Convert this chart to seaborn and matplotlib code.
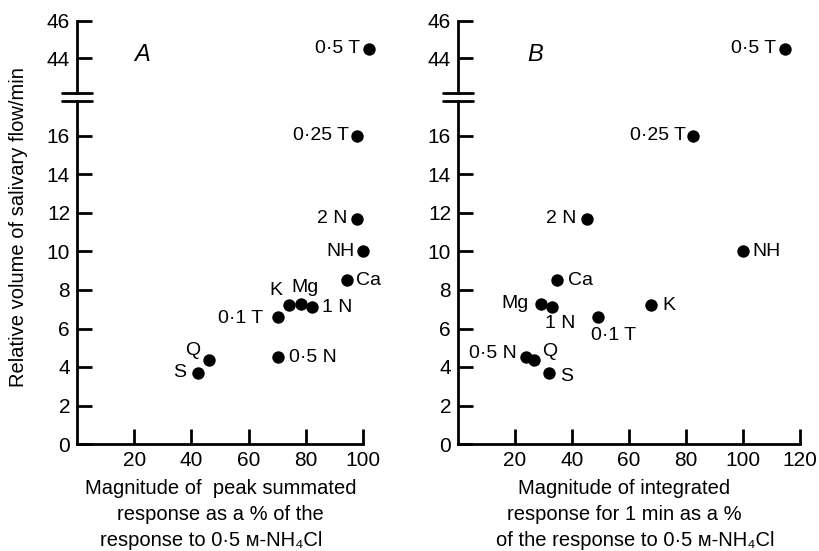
import matplotlib
matplotlib.use("Agg")
import matplotlib.pyplot as plt
import seaborn as sns
import pandas as pd
from matplotlib.lines import Line2D

sns.set_style("ticks")
plt.rcParams['font.family'] = ['Liberation Sans', 'DejaVu Sans']
plt.rcParams.update({"text.color": "black", "axes.labelcolor": "black",
                     "xtick.color": "black", "ytick.color": "black",
                     "axes.edgecolor": "black"})

# Test solutions and their responses
solutions = ["0·5 T", "0·25 T", "2 N", "NH", "Ca", "K", "Mg", "1 N", "0·1 T", "0·5 N", "Q", "S"]
flow = [44.5, 16.0, 11.7, 10.0, 8.5, 7.2, 7.25, 7.1, 6.6, 4.5, 4.35, 3.7]
peak_pct = [102.0, 98.0, 98.0, 100.0, 94.3, 74.3, 78.2, 82.3, 70.3, 70.3, 46.2, 42.4]
integrated_pct = [114.7, 82.5, 45.3, 100.0, 34.7, 67.7, 29.1, 33.0, 49.2, 23.9, 26.8, 32.0]

low_yticks = [0, 2, 4, 6, 8, 10, 12, 14, 16]
high_yticks = [44, 46]
xticks_a = [20, 40, 60, 80, 100]
xticks_b = [20, 40, 60, 80, 100, 120]

df = pd.DataFrame({"solution": solutions, "flow": flow,
                   "peak": peak_pct, "integrated": integrated_pct})

# label placement (offset in points, alignment) for each panel
offs_a = {"0·5 T": (-6.5, 0, "right"), "0·25 T": (-6, 0, "right"), "2 N": (-7, 0, "right"),
          "NH": (-6, 0, "right"), "Ca": (7, 0, "left"), "K": (-10, 11, "center"),
          "Mg": (3, 12, "center"), "1 N": (7, 0, "left"), "0·1 T": (-11, -1, "right"),
          "0·5 N": (8, 0, "left"), "Q": (-12, 7, "center"), "S": (-9, 0, "right")}
offs_b = {"0·5 T": (-6, 0, "right"), "0·25 T": (-5, 0, "right"), "2 N": (-8, 0, "right"),
          "NH": (7, 0, "left"), "Ca": (8, 0, "left"), "K": (8, 0, "left"),
          "Mg": (-9, 1, "right"), "1 N": (6, -12, "center"), "0·1 T": (11, -13, "center"),
          "0·5 N": (-7, 3, "right"), "Q": (11, 6, "center"), "S": (8, -3, "left")}

W, H = 820, 551
fig = plt.figure(figsize=(W / 100, H / 100), dpi=100)

LOW_TOP, LOW_BOT = 101, 444      # pixel rows of lower axis segment
HIGH_TOP, HIGH_BOT = 21, 93      # pixel rows of upper axis segment
PX_PER_UNIT_LOW = 19.25
PX_PER_UNIT_HIGH = 18.5

lw = 2.0
fs = 15
label_fs = 14


def make_panel(left_px, right_px, xcol, xmax, xticks, offs, letter):
    l = left_px / W
    w = (right_px - left_px) / W
    ax_lo = fig.add_axes([l, 1 - LOW_BOT / H, w, (LOW_BOT - LOW_TOP) / H])
    ax_hi = fig.add_axes([l, 1 - HIGH_BOT / H, w, (HIGH_BOT - HIGH_TOP) / H])

    lo = df[df["flow"] < 20]
    hi = df[df["flow"] > 40]
    for ax, part in ((ax_lo, lo), (ax_hi, hi)):
        sns.scatterplot(data=part, x=xcol, y="flow", ax=ax, color="black",
                        s=80, linewidth=0, clip_on=False, zorder=3)
        for _, r in part.iterrows():
            dx, dy, ha = offs[r["solution"]]
            ax.annotate(r["solution"], (r[xcol], r["flow"]), xytext=(dx, dy),
                        textcoords="offset points", ha=ha, va="center",
                        fontsize=label_fs, annotation_clip=False)
        ax.set_xlim(0, xmax)
        ax.set_xlabel("")
        ax.set_ylabel("")
        ax.patch.set_alpha(0)
        for side in ("top", "right"):
            ax.spines[side].set_visible(False)
        for side in ("left", "bottom"):
            ax.spines[side].set_linewidth(lw)
        ax.tick_params(direction="in", length=11, width=lw, labelsize=fs, pad=5,
                       colors="black")

    ax_lo.set_ylim(0, (LOW_BOT - LOW_TOP) / PX_PER_UNIT_LOW)
    ax_lo.set_yticks(low_yticks)
    ax_lo.set_xticks(xticks)
    ax_lo.set_xticklabels([str(t) for t in xticks])

    ax_hi.set_ylim(46 - (HIGH_BOT - HIGH_TOP) / PX_PER_UNIT_HIGH, 46)
    ax_hi.set_yticks(high_yticks)
    ax_hi.spines["bottom"].set_visible(False)
    ax_hi.set_xticks([])
    ax_hi.text(0.227, 0.54, letter, transform=ax_hi.transAxes, fontsize=17,
               style="italic", ha="center", va="center")

    # axis-break marks on the y axis
    for yp in (HIGH_BOT, LOW_TOP - 0.5):
        fig.add_artist(Line2D([(left_px - 15) / W, (left_px + 15) / W],
                              [1 - yp / H, 1 - yp / H], color="black", lw=lw))
    return ax_lo, ax_hi


make_panel(77, 363, "peak", 100, xticks_a, offs_a, "A")
make_panel(458, 800, "integrated", 120, xticks_b, offs_b, "B")

fig.text(19 / W, 1 - 227 / H, "Relative volume of salivary flow/min",
         rotation=90, ha="center", va="center", fontsize=14.5)

lab_fs = 14.5
fig.text(221 / W, 1 - 488 / H, "Magnitude of  peak summated", ha="center", va="center", fontsize=lab_fs)
fig.text(220 / W, 1 - 515 / H, "response as a % of the", ha="center", va="center", fontsize=lab_fs)
fig.text(211 / W, 1 - 540 / H, "response to 0·5 ᴍ-NH₄Cl", ha="center", va="center", fontsize=lab_fs)

fig.text(624 / W, 1 - 488 / H, "Magnitude of integrated", ha="center", va="center", fontsize=lab_fs)
fig.text(624 / W, 1 - 515 / H, "response for 1 min as a %", ha="center", va="center", fontsize=lab_fs)
fig.text(635 / W, 1 - 540 / H, "of the response to 0·5 ᴍ-NH₄Cl", ha="center", va="center", fontsize=lab_fs)

fig.savefig("out.png", dpi=100, facecolor="white")
